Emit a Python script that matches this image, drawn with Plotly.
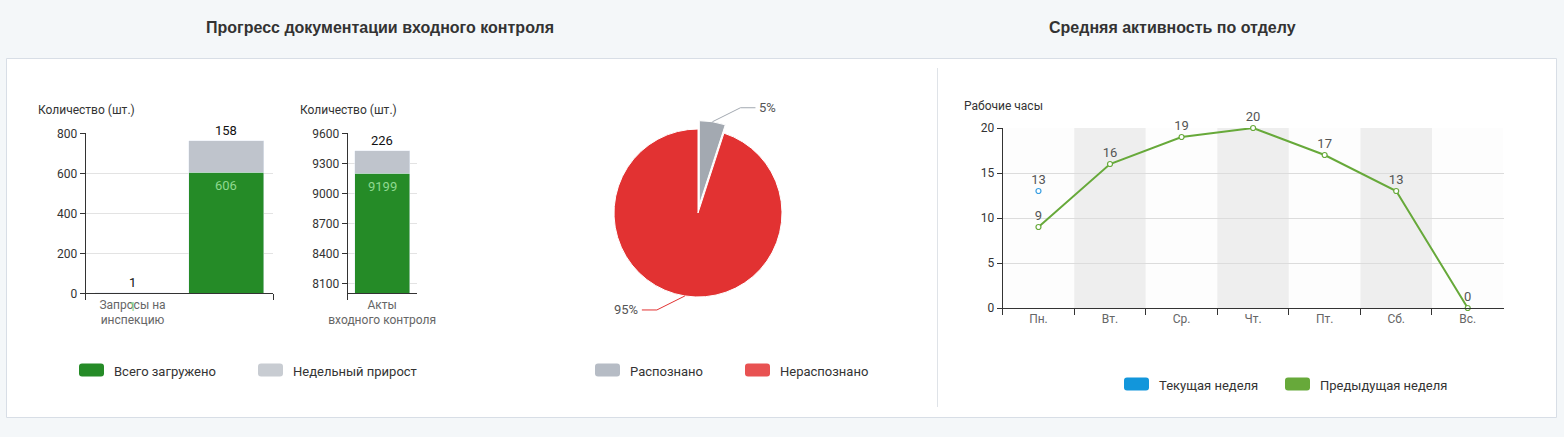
import math
import plotly.graph_objects as go

# ---- data ----
docs_labels = ["Запросы на<br>инспекцию", ""]
docs_loaded = [1, 606]
docs_growth = [1, 158]

acts_labels = ["Акты<br>входного контроля"]
acts_loaded = [9199]
acts_growth = [226]

series_names = ["Всего загружено", "Недельный прирост"]

pie_labels = ["Распознано", "Нераспознано"]
pie_values = [5, 95]

days = ["Пн.", "Вт.", "Ср.", "Чт.", "Пт.", "Сб.", "Вс."]
hours_current = [13, None, None, None, None, None, None]
hours_previous = [9, 16, 19, 20, 17, 13, 0]
week_names = ["Текущая неделя", "Предыдущая неделя"]

W, H = 1564, 437
FONT = "Roboto"
GREEN = "#258b27"
GREY = "#bfc4cc"
PIE_COLORS = ["#a3a9b1", "#e23232"]
PIE_LEGEND = ["#b6bcc5", "#e85252"]
BLUE = "#3a9fe2"
LINE_GREEN = "#67a93a"


def fx(px):
    return px / W


def fy(py):
    return 1 - py / H


def note(text, xpx, ypx, size=12, color="#333", family=FONT, xanchor="center", **kw):
    return dict(text=text, x=fx(xpx), y=fy(ypx), xref="paper", yref="paper",
                xanchor=xanchor, yanchor="middle", showarrow=False,
                font=dict(family=family, size=size, color=color), **kw)


fig = go.Figure()

# ---- bars: documentation progress ----
xs1 = list(range(len(docs_labels)))
fig.add_trace(go.Bar(x=xs1, y=docs_loaded, marker_color=GREEN, width=0.8,
                     xaxis="x", yaxis="y", showlegend=False))
fig.add_trace(go.Bar(x=xs1, y=docs_growth, marker_color=GREY, width=0.8,
                     xaxis="x", yaxis="y", showlegend=False))
fig.add_trace(go.Bar(x=acts_labels, y=acts_loaded, marker_color=GREEN, width=0.8,
                     xaxis="x2", yaxis="y2", showlegend=False))
fig.add_trace(go.Bar(x=acts_labels, y=acts_growth, marker_color=GREY, width=0.8,
                     xaxis="x2", yaxis="y2", showlegend=False))

# ---- pie ----
pie_cx, pie_cy, pie_r, pull = 698, 213, 84, 0.1
half = pie_r * (1 + pull)
fig.add_trace(go.Pie(labels=pie_labels, values=pie_values, sort=False,
                     direction="clockwise", rotation=0, pull=[pull, 0],
                     marker=dict(colors=PIE_COLORS, line=dict(color="white", width=1)),
                     textinfo="none", hoverinfo="label+percent", showlegend=False,
                     domain=dict(x=[fx(pie_cx - half), fx(pie_cx + half)],
                                 y=[fy(pie_cy + half), fy(pie_cy - half)])))

# ---- lines: weekly activity ----
for vals, col in [(hours_current, BLUE), (hours_previous, LINE_GREEN)]:
    fig.add_trace(go.Scatter(x=days, y=vals, mode="lines+markers+text",
                             text=[str(v) if v is not None else "" for v in vals],
                             textposition="top center",
                             textfont=dict(size=13, color="#555", family=FONT),
                             line=dict(color=col, width=2),
                             marker=dict(size=5, color="white", line=dict(color=col, width=1.2)),
                             xaxis="x3", yaxis="y3", showlegend=False, cliponaxis=False))

shapes = []
ann = []

# card and divider
shapes.append(dict(type="rect", xref="paper", yref="paper", x0=fx(6.5), x1=fx(1556.5),
                   y0=fy(417.5), y1=fy(58.5), fillcolor="white",
                   line=dict(color="#d8dee6", width=1), layer="below"))
shapes.append(dict(type="line", xref="paper", yref="paper", x0=fx(937.5), x1=fx(937.5),
                   y0=fy(407), y1=fy(68), line=dict(color="#dfe3e8", width=1), layer="below"))

# alternating bands on the line chart
for i in range(len(days)):
    shapes.append(dict(type="rect", xref="x3", yref="y3 domain", x0=i - 0.5, x1=i + 0.5,
                       y0=0, y1=1, fillcolor="#eeeeee" if i % 2 else "#fdfdfd",
                       line=dict(width=0), layer="below"))

# panel titles
ann.append(note("<b>Прогресс документации входного контроля</b>", 380, 27, size=16,
                family="Liberation Sans"))
ann.append(note("<b>Средняя активность по отделу</b>", 1172, 27, size=16,
                family="Liberation Sans"))

# axis names
ann.append(note("Количество (шт.)", 86, 110))
ann.append(note("Количество (шт.)", 348, 110))
ann.append(note("Рабочие часы", 1004, 106))

# bar value labels
for xr, yr, xv, loaded, growth in [("x", "y", xs1, docs_loaded, docs_growth),
                                   ("x2", "y2", acts_labels, acts_loaded, acts_growth)]:
    for x, g, p in zip(xv, loaded, growth):
        ann.append(dict(text=str(p), x=x, y=g + p, xref=xr, yref=yr, xanchor="center",
                        yanchor="bottom", yshift=1, showarrow=False,
                        font=dict(family=FONT, size=13, color="#111")))
        ann.append(dict(text=str(g), x=x, y=g, xref=xr, yref=yr, xanchor="center",
                        yanchor="top", yshift=-4, showarrow=False,
                        font=dict(family=FONT, size=13, color="#8fd98f")))

# pie labels with leader lines
total = sum(pie_values)
cum = 0
for i, v in enumerate(pie_values):
    a = math.radians((cum + v / 2) / total * 360)
    cum += v
    s, c = math.sin(a), math.cos(a)
    rr = pie_r + (pie_r * pull if i == 0 else 0)
    x0, y0 = pie_cx + rr * s, pie_cy - rr * c
    sx = 1 if s >= 0 else -1
    sy = -1 if c >= 0 else 1
    x1, y1 = x0 + sx * 28, y0 + sy * 14
    x2, y2 = x1 + sx * 15, y1
    shapes.append(dict(type="path", xref="paper", yref="paper",
                       path=f"M {fx(x0)},{fy(y0)} L {fx(x1)},{fy(y1)} L {fx(x2)},{fy(y2)}",
                       line=dict(color=PIE_COLORS[i], width=1)))
    ann.append(note(f"{v / total:.0%}", x2 + 2 * sx, y2, size=13, color="#555",
                    xanchor="left" if sx > 0 else "right"))


# hand-drawn legends (rounded swatches like the original)
def swatch(x, yc, color, w=25, h=13, r=3):
    x0, x1, y0, y1 = x, x + w, yc - h / 2, yc + h / 2
    path = (f"M {fx(x0 + r)},{fy(y0)} L {fx(x1 - r)},{fy(y0)} Q {fx(x1)},{fy(y0)} {fx(x1)},{fy(y0 + r)} "
            f"L {fx(x1)},{fy(y1 - r)} Q {fx(x1)},{fy(y1)} {fx(x1 - r)},{fy(y1)} "
            f"L {fx(x0 + r)},{fy(y1)} Q {fx(x0)},{fy(y1)} {fx(x0)},{fy(y1 - r)} "
            f"L {fx(x0)},{fy(y0 + r)} Q {fx(x0)},{fy(y0)} {fx(x0 + r)},{fy(y0)} Z")
    return dict(type="path", xref="paper", yref="paper", path=path,
                fillcolor=color, line=dict(width=0))


legends = [
    (series_names, [GREEN, "#c8ccd2"], [79, 258], 370),
    (pie_labels, PIE_LEGEND, [595, 745], 370),
    (week_names, ["#1296db", LINE_GREEN], [1124, 1285], 384),
]
for names, colors, xs, yc in legends:
    for name, col, x in zip(names, colors, xs):
        shapes.append(swatch(x, yc, col))
        ann.append(note(name, x + 33, yc + 1, size=13, xanchor="left"))

axis_common = dict(showline=True, linecolor="#333", linewidth=1, zeroline=False,
                   fixedrange=True, automargin=False)
ytick = dict(family=FONT, size=12, color="#333")
xtick = dict(family=FONT, size=12, color="#666")

fig.update_layout(
    width=W, height=H, autosize=False,
    margin=dict(l=0, r=0, t=0, b=0, pad=0, autoexpand=False),
    paper_bgcolor="#f4f7f9", plot_bgcolor="rgba(0,0,0,0)",
    barmode="stack", bargap=0.2, showlegend=False,
    font=dict(family=FONT, size=12, color="#333"),
    xaxis=dict(domain=[fx(85.7), fx(273)], anchor="y", range=[-0.5, 1.5],
               tickmode="array", tickvals=xs1, ticktext=docs_labels, ticks="",
               tickangle=0, showgrid=False, tickfont=xtick,
               minor=dict(tickmode="array", tickvals=[-0.5, 1.5], ticks="outside",
                          ticklen=6, tickcolor="#333", showgrid=False),
               **axis_common),
    yaxis=dict(domain=[fy(293.3), fy(133.3)], anchor="x", range=[0, 800], dtick=200,
               ticks="outside", ticklen=5, tickcolor="#333", gridcolor="#e3e3e3",
               tickfont=ytick, **axis_common),
    xaxis2=dict(domain=[fx(347.6), fx(416.7)], anchor="y2", type="category",
                tickson="boundaries", ticks="outside", ticklen=6, tickcolor="#333",
                tickangle=0, showgrid=False, tickfont=xtick, **axis_common),
    yaxis2=dict(domain=[fy(293.3), fy(133.3)], anchor="x2", range=[8000, 9600],
                tick0=8100, dtick=300, ticks="outside", ticklen=5, tickcolor="#333",
                gridcolor="#e3e3e3", tickfont=ytick, **axis_common),
    xaxis3=dict(domain=[fx(1002.7), fx(1503.5)], anchor="y3", type="category",
                tickson="boundaries", ticks="outside", ticklen=6, tickcolor="#333",
                tickangle=0, showgrid=False, tickfont=xtick, **axis_common),
    yaxis3=dict(domain=[fy(308), fy(128)], anchor="x3", range=[0, 20], dtick=5,
                ticks="outside", ticklen=5, tickcolor="#333", gridcolor="#dcdcdc",
                tickfont=ytick, **axis_common),
    shapes=shapes,
    annotations=ann,
)

fig.write_html("out.html", config={"displayModeBar": False},
               post_script="document.body.style.margin='0';"
                           "document.body.style.overflow='hidden';")
